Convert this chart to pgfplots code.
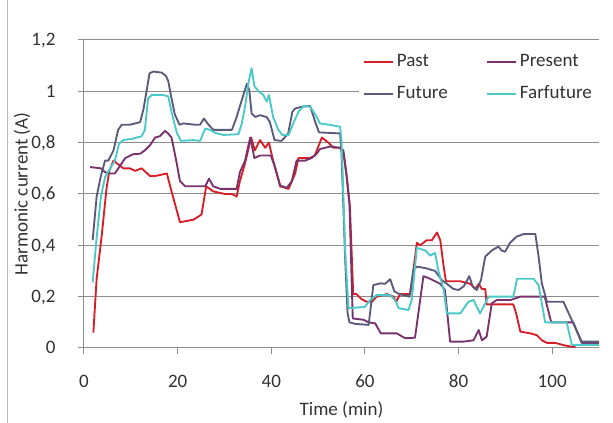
\documentclass[border=0pt]{standalone}
\usepackage{fontspec}
\setmainfont{Carlito}
\usepackage{pgfplots}
\pgfplotsset{compat=1.18}
\definecolor{cPast}{RGB}{214,30,40}
\definecolor{cPresent}{RGB}{120,50,110}
\definecolor{cFuture}{RGB}{90,90,122}
\definecolor{cFar}{RGB}{75,200,200}
\definecolor{gridc}{RGB}{140,140,140}
\definecolor{txt}{RGB}{50,50,50}
\begin{document}
\fontsize{14.25}{17}\selectfont
\begin{tikzpicture}
\useasboundingbox (-63pt,-56.25pt) rectangle (396.75pt,261pt);
\draw[gray!55, line width=0.75pt] (-57pt,-56.25pt) -- (-57pt,261pt);
\begin{axis}[
  at={(0,0)}, anchor=south west,
  scale only axis, width=386.25pt, height=231pt,
  xmin=0, xmax=110, ymin=0, ymax=1.2,
  axis lines*=left,
  axis line style={-, draw=gridc, line width=0.75pt},
  tick style={draw=gridc, line width=0.75pt},
  tick align=outside, major tick length=4.5pt,
  ymajorgrids, grid style={gridc, line width=0.75pt},
  xtick={0,20,40,60,80,100},
  xticklabels={0,20,40,60,80,100},
  ytick={0,0.2,0.4,0.6,0.8,1,1.2},
  yticklabels={0,{0,2},{0,4},{0,6},{0,8},1,{1,2}},
  tick label style={font=\fontsize{14.25}{17}\selectfont, text=txt},
  x tick label style={anchor=base, yshift=-25pt},
  y tick label style={anchor=base east, yshift=-4.5pt, xshift=-12pt},
  xlabel={Time (min)},
  ylabel={Harmonic current (A)},
  label style={font=\fontsize{14.25}{17}\selectfont, text=txt},
  xlabel style={at={(axis description cs:0.5,-0.201)}, anchor=center},
  ylabel style={at={(axis description cs:-0.1204,0.5)}, anchor=center},
  legend columns=2,
  legend cell align=left,
  legend image code/.code={\draw[#1, line width=1.5pt] (0pt,0pt) -- (21.75pt,0pt);},
  legend style={at={(0.534,0.971)}, anchor=north west, draw=none, fill=white,
    font=\fontsize{14.25}{17}\selectfont, text=txt,
    row sep=8.3pt},
  every axis plot/.append style={line width=1.4pt, line join=round},
]
\addplot[cPast] coordinates {
(2,0.06) (2.7,0.27) (3.8,0.44) (4.8,0.62) (5.4,0.69) (6.3,0.73) (7,0.72) (8.4,0.70) (9.8,0.70) (10.9,0.69) (12.3,0.70) (14.1,0.67) (15.2,0.67) (17.7,0.68) (18.7,0.61) (20.5,0.49) (23.4,0.50) (25.1,0.52) (26.1,0.63) (27.6,0.61) (30.1,0.60) (31.6,0.60) (32.6,0.59) (33.3,0.65) (34.4,0.72) (35.7,0.82) (36.5,0.77) (37.6,0.81) (38.7,0.78) (39.5,0.80) (40.4,0.73) (41.9,0.63) (43.7,0.62) (45.1,0.68) (45.8,0.74) (48.3,0.74) (49.3,0.75) (50.8,0.82) (52.2,0.80) (53.3,0.78) (54.7,0.78) (55.4,0.76) (56.1,0.67) (56.8,0.55) (57.5,0.21) (58.2,0.21) (59.3,0.19) (60.4,0.18) (61.5,0.18) (62.5,0.20) (64.7,0.21) (66.1,0.20) (66.7,0.18) (67.5,0.21) (69.7,0.21) (71.1,0.41) (71.8,0.40) (72.5,0.41) (73.2,0.42) (74.3,0.42) (75.4,0.45) (76.1,0.42) (76.8,0.32) (77.3,0.26) (80.4,0.26) (82.5,0.25) (83.6,0.23) (84.3,0.25) (85,0.23) (85.7,0.23) (86,0.17) (88.2,0.17) (91.7,0.17) (92.3,0.135) (93.2,0.064) (95.3,0.057) (96.7,0.05) (97.8,0.03) (98.9,0.02) (100.6,0.02) (102.7,0.01) (104.2,0.005) (105,0.005)
};
\addlegendentry{\makebox[65pt][l]{Past}}
\addplot[cPresent] coordinates {
(1.3,0.705) (3.6,0.70) (4.5,0.685) (5.6,0.68) (6.6,0.68) (7.7,0.71) (8.8,0.74) (10.5,0.755) (12,0.757) (13,0.77) (14.1,0.79) (15.2,0.82) (16.2,0.825) (17.3,0.846) (18,0.835) (18.7,0.82) (19.8,0.72) (20.5,0.65) (21.6,0.63) (25.9,0.63) (26.7,0.66) (27.6,0.63) (29.1,0.62) (32.6,0.62) (33.3,0.685) (34.4,0.73) (35.5,0.82) (36.4,0.74) (37.6,0.75) (39.9,0.75) (40.8,0.705) (41.9,0.633) (43.3,0.624) (44.4,0.65) (45.4,0.73) (47.2,0.73) (48.6,0.74) (49.7,0.757) (50.4,0.775) (52.6,0.785) (54.7,0.78) (55.4,0.77) (56.1,0.67) (56.7,0.56) (57.4,0.115) (59.7,0.11) (60.8,0.10) (62.2,0.096) (63.4,0.057) (66.8,0.057) (68.6,0.038) (70.7,0.04) (72.5,0.28) (73.9,0.27) (76.1,0.25) (77.1,0.226) (78.2,0.025) (81.1,0.025) (83.2,0.03) (84.3,0.07) (85,0.03) (86,0.044) (87.1,0.174) (88.2,0.187) (91.1,0.187) (93.2,0.2) (98.4,0.2) (99.8,0.1) (104.5,0.1) (106.3,0.02) (110,0.02)
};
\addlegendentry{Present}
\addplot[cFuture] coordinates {
(1.85,0.42) (2.7,0.59) (3.6,0.67) (4.5,0.73) (5.2,0.73) (6.3,0.77) (7.3,0.85) (8.05,0.87) (9.8,0.87) (12,0.88) (12.7,0.93) (13.4,1.005) (14,1.07) (14.8,1.077) (16.6,1.073) (17.5,1.06) (18,1.04) (18.5,0.99) (19.4,0.91) (20.4,0.87) (21.2,0.875) (23.7,0.87) (24.8,0.87) (25.6,0.894) (26.6,0.87) (27.6,0.85) (31.6,0.85) (32.6,0.90) (33.7,0.966) (34.8,1.03) (35.3,1.005) (35.8,0.914) (36.6,0.90) (37.6,0.907) (39,0.90) (39.7,0.88) (40.7,0.81) (42.2,0.807) (43.6,0.835) (44.5,0.92) (45.1,0.933) (46.5,0.94) (48.3,0.943) (49.4,0.88) (50.2,0.84) (54.7,0.836) (55.0,0.76) (55.8,0.34) (56.3,0.135) (56.7,0.10) (57.9,0.094) (60.8,0.09) (61.8,0.245) (63.3,0.252) (64.3,0.25) (65.4,0.268) (66.3,0.22) (67.4,0.21) (69.5,0.2) (70.4,0.308) (71.2,0.317) (73.2,0.31) (75,0.30) (76.4,0.265) (77.5,0.25) (78.9,0.23) (80,0.226) (81.1,0.24) (82.3,0.28) (83,0.24) (83.9,0.226) (84.8,0.265) (85.7,0.356) (87.1,0.38) (88.5,0.395) (89.2,0.38) (89.95,0.375) (91,0.41) (92.4,0.434) (93.9,0.444) (96.4,0.444) (97.1,0.356) (97.8,0.25) (98.9,0.18) (102.4,0.18) (106.3,0.025) (110,0.025)
};
\addlegendentry{\makebox[65pt][l]{Future}}
\addplot[cFar] coordinates {
(1.85,0.255) (2.7,0.43) (3.6,0.587) (4.5,0.666) (5.6,0.70) (6.6,0.73) (7.5,0.796) (8.4,0.81) (10.5,0.816) (12.3,0.825) (13,0.85) (13.7,0.973) (14.5,0.986) (16.9,0.986) (18,0.98) (18.7,0.92) (19.8,0.84) (20.7,0.807) (23.4,0.81) (24.8,0.807) (25.9,0.855) (26.9,0.85) (28,0.838) (29.8,0.83) (33,0.833) (33.7,0.875) (34.4,0.94) (35.1,1.03) (35.8,1.09) (36.4,1.02) (37.3,1.0) (38.3,0.986) (39,0.96) (39.5,0.986) (40.4,0.90) (41.5,0.85) (42.4,0.83) (43.7,0.83) (44.7,0.875) (45.8,0.92) (46.9,0.943) (48.3,0.94) (49.4,0.91) (50.4,0.875) (52.6,0.869) (54.7,0.862) (55.0,0.81) (55.8,0.37) (56.5,0.155) (60,0.16) (61.1,0.187) (62.5,0.206) (65.4,0.206) (66.5,0.185) (67.2,0.155) (69.3,0.148) (70,0.187) (71.1,0.39) (72.9,0.38) (73.9,0.36) (75,0.37) (75.7,0.30) (76.8,0.23) (77.5,0.135) (80.4,0.135) (82.1,0.18) (83.2,0.187) (83.9,0.16) (84.6,0.135) (85.7,0.174) (86.4,0.2) (91.7,0.2) (92.5,0.27) (96,0.27) (97.1,0.245) (98.5,0.10) (103.1,0.10) (104.2,0.012) (110,0.012)
};
\addlegendentry{Farfuture}
\end{axis}
\end{tikzpicture}
\end{document}
